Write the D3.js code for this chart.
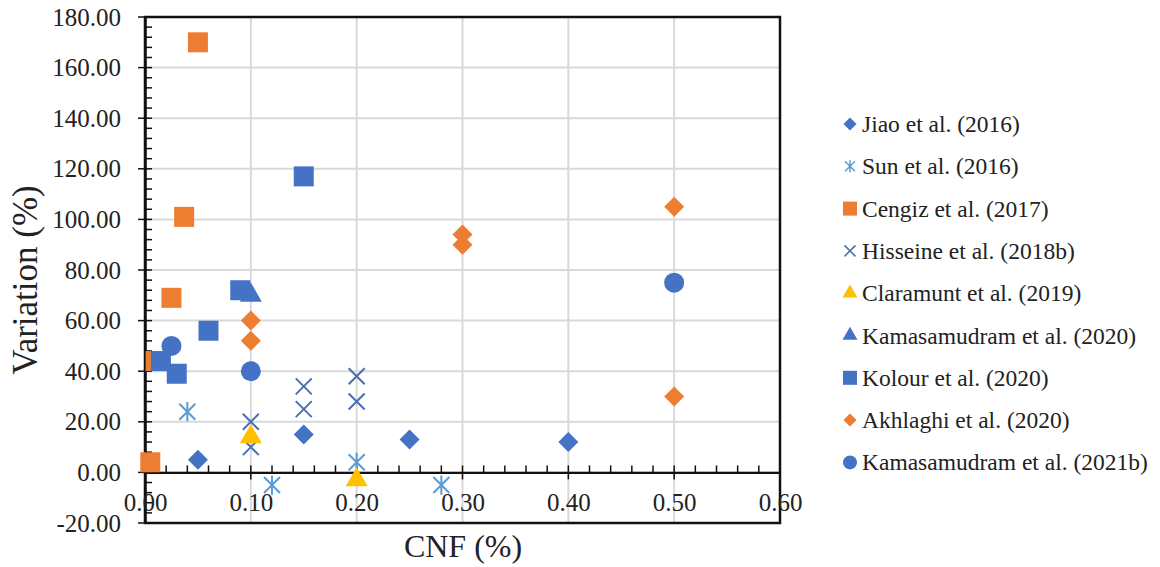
<!DOCTYPE html>
<html><head><meta charset="utf-8">
<script src="https://cdn.jsdelivr.net/npm/d3@7"></script>
</head>
<body style="margin:0">
<svg id="chart" width="1160" height="567"></svg>
<script>
// ---- data ----
const seriesNames = ["Jiao et al. (2016)","Sun et al. (2016)","Cengiz et al. (2017)","Hisseine et al. (2018b)","Claramunt et al. (2019)","Kamasamudram et al. (2020)","Kolour et al. (2020)","Akhlaghi et al. (2020)","Kamasamudram et al. (2021b)"];
const jiaoCNF = [0.05,0.15,0.25,0.40];
const jiaoVar = [5,15,13,12];
const sunCNF = [0.04,0.12,0.20,0.28];
const sunVar = [24,-5,4,-5];
const cengizCNF = [0.05,0.037,0.025,0.005,0.01];
const cengizVar = [170,101,69,4,44];
const hisseineCNF = [0.10,0.10,0.15,0.15,0.20,0.20];
const hisseineVar = [20,10,34,25,38,28];
const claramuntCNF = [0.10,0.20];
const claramuntVar = [14,-3];
const kam2020CNF = [0.10];
const kam2020Var = [70];
const kolourCNF = [0.15,0.09,0.06,0.03,0.015];
const kolourVar = [117,72,56,39,44];
const akhlaghiCNF = [0.10,0.10,0.30,0.30,0.50,0.50];
const akhlaghiVar = [60,52,94,90,105,30];
const kam2021CNF = [0.025,0.10,0.50];
const kam2021Var = [50,40,75];
const xTicks = [0,0.1,0.2,0.3,0.4,0.5,0.6];
const yTicks = [-20,0,20,40,60,80,100,120,140,160,180];

const seriesCNF = [jiaoCNF,sunCNF,cengizCNF,hisseineCNF,claramuntCNF,kam2020CNF,kolourCNF,akhlaghiCNF,kam2021CNF];
const seriesVar = [jiaoVar,sunVar,cengizVar,hisseineVar,claramuntVar,kam2020Var,kolourVar,akhlaghiVar,kam2021Var];
const seriesShape = ["diamond","asterisk","square","cross","triangle","triangle","square","diamond","circle"];
const seriesColor = ["#4472C4","#5B9BD5","#ED7D31","#4A6FB0","#FFC000","#4472C4","#4472C4","#ED7D31","#4472C4"];

// ---- layout ----
const FONTCSS='"Liberation Serif", "Times New Roman", Tinos, "Nimbus Roman", FreeSerif';
const TXT="#222";
const L=145,R=780,T=17,B=523;
const svg=d3.select("#chart");
const x=d3.scaleLinear().domain([0,0.6]).range([L,R]);
const y=d3.scaleLinear().domain([-20,180]).range([B,T]);

function serif(sel,size){
  sel.attr("fill",TXT).attr("class","sf")
     .style("font-family",FONTCSS).style("font-size",size+"px");
  return sel;
}

// gridlines
const g=svg.append("g");
g.selectAll("line.hg").data(yTicks).join("line")
 .attr("x1",L).attr("x2",R).attr("y1",d=>y(d)).attr("y2",d=>y(d))
 .attr("stroke","#d9d9d9").attr("stroke-width",2);
g.selectAll("line.vg").data(xTicks).join("line")
 .attr("y1",T).attr("y2",B).attr("x1",d=>x(d)).attr("x2",d=>x(d))
 .attr("stroke","#d9d9d9").attr("stroke-width",2);

// border
svg.append("rect").attr("x",L).attr("y",T).attr("width",R-L).attr("height",B-T)
 .attr("fill","none").attr("stroke","#111").attr("stroke-width",2.5);

// y axis
const yAxis=d3.axisLeft(y).tickValues(yTicks).tickFormat(d=>d.toFixed(2)).tickSizeInner(0).tickSizeOuter(0).tickPadding(24);
const ya=svg.append("g").attr("transform",`translate(${L},0)`).call(yAxis).attr("font-family",null).attr("font-size",null);
ya.select(".domain").attr("stroke","#111").attr("stroke-width",2.5);
serif(ya.selectAll("text"),25);
const yMinor=d3.range(-20,180.01,4);
svg.append("g").selectAll("line").data(yMinor).join("line")
 .attr("x1",d=>d%20===0?L-7:L).attr("x2",L+7)
 .attr("y1",d=>y(d)).attr("y2",d=>y(d)).attr("stroke","#111").attr("stroke-width",1.5);

// x axis at y=0
const xAxis=d3.axisBottom(x).tickValues(xTicks).tickFormat(d=>d.toFixed(2)).tickSizeInner(0).tickSizeOuter(0).tickPadding(21);
const xa=svg.append("g").attr("transform",`translate(0,${y(0)})`).call(xAxis).attr("font-family",null).attr("font-size",null);
xa.select(".domain").attr("stroke","#111").attr("stroke-width",2.2);
serif(xa.selectAll("text"),25);
const xMinor=d3.range(0,30).map(i=>i*0.02);
svg.append("g").selectAll("line").data(xMinor).join("line")
 .attr("x1",d=>x(d)).attr("x2",d=>x(d))
 .attr("y1",y(0)-7).attr("y2",(d,i)=>i%5===0?y(0)+7:y(0))
 .attr("stroke","#111").attr("stroke-width",1.5);

// axis titles
serif(svg.append("text").attr("x",463).attr("y",557).attr("text-anchor","middle"),32).text("CNF (%)");
serif(svg.append("text").attr("transform","translate(37,280) rotate(-90)").attr("text-anchor","middle"),35).text("Variation (%)");

// markers
function drawMarker(sel,shape,color,s){
  if(shape==="diamond"){
    sel.append("path").attr("d",`M0,${-s}L${s},0L0,${s}L${-s},0Z`).attr("fill",color);
  }else if(shape==="square"){
    sel.append("rect").attr("x",-s).attr("y",-s).attr("width",2*s).attr("height",2*s).attr("fill",color);
  }else if(shape==="circle"){
    sel.append("circle").attr("r",s).attr("fill",color);
  }else if(shape==="triangle"){
    const h=s*1.732;
    sel.append("path").attr("d",`M0,${-h*2/3}L${s},${h/3}L${-s},${h/3}Z`).attr("fill",color);
  }else if(shape==="cross"){
    sel.append("path").attr("d",`M${-s},${-s}L${s},${s}M${-s},${s}L${s},${-s}`).attr("stroke",color).attr("stroke-width",Math.max(1.5,s/4)).attr("fill","none");
  }else if(shape==="asterisk"){
    sel.append("path").attr("d",`M${-s},${-s}L${s},${s}M${-s},${s}L${s},${-s}M0,${-s*1.2}L0,${s*1.2}`).attr("stroke",color).attr("stroke-width",Math.max(1.5,s/4)).attr("fill","none");
  }
}
const mainSize={diamond:10,square:10,circle:10,triangle:11,cross:8,asterisk:8};
seriesNames.forEach((name,si)=>{
  const pts=seriesCNF[si].map((c,i)=>({c,v:seriesVar[si][i]}));
  const gs=svg.append("g");
  pts.forEach(p=>{
    const m=gs.append("g").attr("transform",`translate(${x(p.c)},${y(p.v)})`);
    drawMarker(m,seriesShape[si],seriesColor[si],mainSize[seriesShape[si]]);
  });
});

// legend
const legSize={diamond:6.5,square:7,circle:7,triangle:7.5,cross:5.5,asterisk:5};
const lg=svg.append("g");
seriesNames.forEach((name,i)=>{
  const ly=124+i*42.3;
  const m=lg.append("g").attr("transform",`translate(850,${ly})`);
  drawMarker(m,seriesShape[i],seriesColor[i],legSize[seriesShape[i]]);
  serif(lg.append("text").attr("x",862).attr("y",ly+8),23.5).text(name);
});

// re-apply font once fonts are ready (forces re-layout)
if(document.fonts&&document.fonts.load){
  Promise.all([document.fonts.load('25px "Liberation Serif"'),document.fonts.load('25px "Times New Roman"')])
   .then(()=>{d3.selectAll("text.sf").each(function(){const f=this.style.fontFamily;this.style.fontFamily="serif";this.getBBox();this.style.fontFamily=f;});})
   .catch(()=>{});
}
</script>
</body></html>
